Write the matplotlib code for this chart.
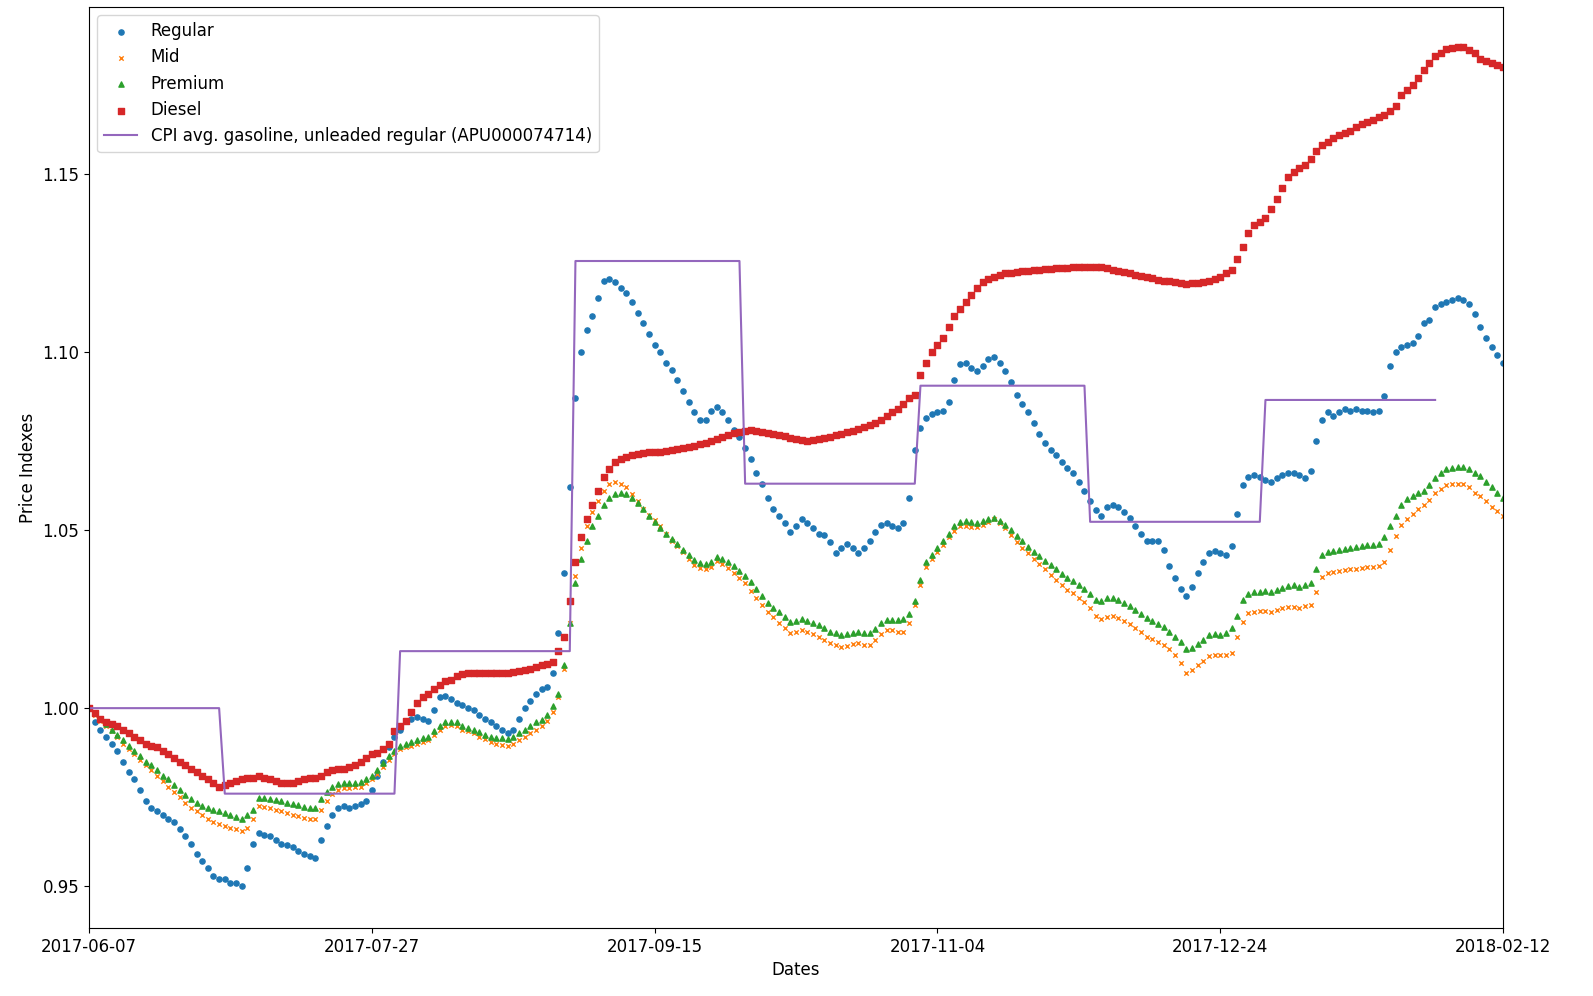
import numpy as np
import pandas as pd
import matplotlib
matplotlib.use("Agg")
import matplotlib.pyplot as plt
import matplotlib.dates as mdates

# daily index values, 2017-06-07 .. 2018-02-12
start, end = "2017-06-07", "2018-02-12"

regular = [
    1.000, 0.996, 0.994, 0.992, 0.990, 0.988, 0.985, 0.982, 0.980, 0.977,
    0.974, 0.972, 0.971, 0.970, 0.969, 0.968, 0.966, 0.964, 0.962, 0.959,
    0.957, 0.955, 0.953, 0.952, 0.952, 0.951, 0.951, 0.950, 0.955, 0.962,
    0.965, 0.9645, 0.964, 0.963, 0.962, 0.9615, 0.961, 0.960, 0.959, 0.9585,
    0.958, 0.963, 0.967, 0.970, 0.972, 0.9725, 0.972, 0.9725, 0.973, 0.974,
    0.977, 0.981, 0.985, 0.989, 0.992, 0.994, 0.9965, 0.997, 0.9975, 0.997,
    0.9965, 0.9995, 1.003, 1.0035, 1.0025, 1.0015, 1.001, 1.000, 0.9995, 0.998,
    0.997, 0.996, 0.995, 0.994, 0.993, 0.994, 0.997, 1.000, 1.002, 1.004,
    1.0055, 1.006, 1.010, 1.021, 1.038, 1.062, 1.087, 1.100, 1.106, 1.110,
    1.115, 1.120, 1.1205, 1.1195, 1.118, 1.1165, 1.114, 1.111, 1.108, 1.105,
    1.102, 1.100, 1.097, 1.095, 1.092, 1.089, 1.086, 1.083, 1.081, 1.081,
    1.0835, 1.0845, 1.083, 1.081, 1.078, 1.076, 1.073, 1.070, 1.066, 1.063,
    1.059, 1.056, 1.054, 1.052, 1.0495, 1.051, 1.053, 1.052, 1.0505, 1.049,
    1.0485, 1.0465, 1.0435, 1.045, 1.046, 1.045, 1.0435, 1.045, 1.047, 1.0495,
    1.0515, 1.052, 1.051, 1.0505, 1.052, 1.059, 1.0725, 1.0785, 1.0815, 1.0825,
    1.083, 1.0835, 1.086, 1.092, 1.0965, 1.097, 1.0955, 1.0945, 1.096, 1.098,
    1.0985, 1.097, 1.0945, 1.0915, 1.088, 1.0855, 1.083, 1.080, 1.077, 1.0745,
    1.0725, 1.071, 1.069, 1.0675, 1.066, 1.0635, 1.061, 1.058, 1.0555, 1.054,
    1.0565, 1.057, 1.0565, 1.055, 1.0535, 1.051, 1.049, 1.047, 1.047, 1.047,
    1.0445, 1.040, 1.0365, 1.0335, 1.0315, 1.034, 1.038, 1.041, 1.0435, 1.044,
    1.0435, 1.043, 1.0455, 1.0545, 1.0625, 1.065, 1.0655, 1.065, 1.064, 1.0635,
    1.0645, 1.0655, 1.066, 1.066, 1.0655, 1.0645, 1.0665, 1.075, 1.081, 1.083,
    1.082, 1.083, 1.084, 1.0835, 1.084, 1.0835, 1.0835, 1.083, 1.0835, 1.0875,
    1.096, 1.100, 1.1015, 1.102, 1.1025, 1.1045, 1.108, 1.109, 1.1125, 1.1135,
    1.114, 1.1145, 1.115, 1.1145, 1.1135, 1.1105, 1.107, 1.104, 1.1015, 1.099,
    1.097,
]

mid = [
    1.000, 0.998, 0.9965, 0.995, 0.9935, 0.992, 0.990, 0.9885, 0.987, 0.9855,
    0.984, 0.9825, 0.981, 0.9795, 0.978, 0.9765, 0.975, 0.9735, 0.972, 0.971,
    0.970, 0.969, 0.968, 0.9675, 0.967, 0.9665, 0.966, 0.9655, 0.9665, 0.969,
    0.9725, 0.9722, 0.972, 0.9715, 0.971, 0.9705, 0.970, 0.9697, 0.9693, 0.969,
    0.969, 0.9715, 0.974, 0.976, 0.977, 0.9775, 0.9775, 0.9778, 0.978, 0.979,
    0.980, 0.9815, 0.9835, 0.9855, 0.987, 0.9885, 0.989, 0.9895, 0.990, 0.9905,
    0.991, 0.9925, 0.994, 0.995, 0.9952, 0.995, 0.994, 0.9935, 0.993, 0.992,
    0.9912, 0.9905, 0.990, 0.9897, 0.9895, 0.990, 0.991, 0.992, 0.993, 0.994,
    0.995, 0.9965, 0.999, 1.003, 1.011, 1.024, 1.037, 1.045, 1.051, 1.055,
    1.058, 1.061, 1.063, 1.0635, 1.063, 1.062, 1.060, 1.058, 1.056, 1.0543,
    1.0528, 1.051, 1.049, 1.047, 1.0455, 1.0437, 1.042, 1.0403, 1.0393, 1.039,
    1.0397, 1.0412, 1.0405, 1.0393, 1.038, 1.0366, 1.035, 1.033, 1.031, 1.029,
    1.027, 1.0255, 1.024, 1.0225, 1.0212, 1.0215, 1.022, 1.0215, 1.0208, 1.020,
    1.0192, 1.0182, 1.0176, 1.0172, 1.0175, 1.018, 1.0182, 1.0178, 1.0176, 1.019,
    1.0208, 1.0218, 1.0218, 1.0215, 1.0215, 1.024, 1.029, 1.0347, 1.0397, 1.0418,
    1.0438, 1.0458, 1.048, 1.0498, 1.0512, 1.0512, 1.0508, 1.0508, 1.0515, 1.0523,
    1.053, 1.052, 1.0505, 1.0486, 1.0466, 1.045, 1.0435, 1.042, 1.0405, 1.039,
    1.0375, 1.036, 1.0345, 1.0333, 1.0322, 1.031, 1.0298, 1.028, 1.026, 1.0251,
    1.0256, 1.026, 1.0253, 1.0245, 1.0237, 1.0225, 1.0213, 1.0201, 1.0194, 1.0186,
    1.0178, 1.0166, 1.015, 1.0128, 1.010, 1.0108, 1.012, 1.0133, 1.0146, 1.0148,
    1.0148, 1.015, 1.0155, 1.020, 1.0242, 1.0267, 1.027, 1.0272, 1.0272, 1.027,
    1.0276, 1.028, 1.0283, 1.0285, 1.0282, 1.0286, 1.029, 1.0327, 1.0369, 1.0378,
    1.0381, 1.0384, 1.0387, 1.039, 1.039, 1.0393, 1.0395, 1.0397, 1.0399, 1.0411,
    1.0445, 1.0483, 1.0513, 1.0532, 1.0545, 1.0558, 1.057, 1.0585, 1.0603, 1.0615,
    1.0625, 1.0628, 1.0629, 1.0628, 1.062, 1.0605, 1.0595, 1.058, 1.0565, 1.0552,
    1.054,
]

premium = [
    1.000, 0.9985, 0.997, 0.9955, 0.994, 0.9925, 0.991, 0.9895, 0.988, 0.9865,
    0.985, 0.984, 0.9825, 0.981, 0.980, 0.9785, 0.977, 0.9755, 0.9745, 0.9735,
    0.9725, 0.972, 0.9715, 0.971, 0.9705, 0.970, 0.9695, 0.969, 0.970, 0.9715,
    0.9748, 0.9748, 0.9745, 0.9743, 0.974, 0.9735, 0.973, 0.9727, 0.9723, 0.972,
    0.972, 0.9745, 0.9765, 0.978, 0.9787, 0.979, 0.979, 0.979, 0.9792, 0.980,
    0.981, 0.9825, 0.9845, 0.9865, 0.988, 0.9895, 0.990, 0.9905, 0.991, 0.9915,
    0.992, 0.9935, 0.995, 0.996, 0.9962, 0.996, 0.995, 0.9945, 0.994, 0.9932,
    0.9925, 0.992, 0.9917, 0.9915, 0.9913, 0.992, 0.993, 0.994, 0.995, 0.996,
    0.9968, 0.998, 1.0005, 1.004, 1.012, 1.024, 1.035, 1.042, 1.047, 1.051,
    1.054, 1.057, 1.059, 1.060, 1.0603, 1.060, 1.059, 1.0575, 1.0558, 1.054,
    1.0522, 1.0505, 1.049, 1.0475, 1.046, 1.0445, 1.043, 1.0415, 1.0408, 1.0404,
    1.041, 1.0425, 1.042, 1.041, 1.0398, 1.0386, 1.037, 1.0355, 1.0335, 1.0315,
    1.0295, 1.028, 1.027, 1.0255, 1.0242, 1.0245, 1.025, 1.0245, 1.024, 1.0233,
    1.0225, 1.0215, 1.021, 1.0205, 1.0208, 1.0212, 1.0215, 1.0212, 1.021, 1.0222,
    1.0238, 1.0246, 1.0248, 1.0248, 1.025, 1.0265, 1.030, 1.036, 1.041, 1.0429,
    1.045, 1.0468, 1.0488, 1.051, 1.0522, 1.0525, 1.0522, 1.052, 1.0525, 1.053,
    1.0535, 1.0525, 1.0515, 1.050, 1.0484, 1.0468, 1.0453, 1.0438, 1.0426, 1.0414,
    1.0402, 1.039, 1.0377, 1.0365, 1.0356, 1.0345, 1.0335, 1.032, 1.0303, 1.0302,
    1.0308, 1.031, 1.0303, 1.0295, 1.0287, 1.0275, 1.0263, 1.0252, 1.0245, 1.0237,
    1.0228, 1.0215, 1.020, 1.0185, 1.0165, 1.017, 1.018, 1.0192, 1.0206, 1.0208,
    1.0206, 1.021, 1.0224, 1.026, 1.0303, 1.0321, 1.0326, 1.0327, 1.0328, 1.0325,
    1.0332, 1.0338, 1.0342, 1.0345, 1.034, 1.0345, 1.035, 1.039, 1.043, 1.0437,
    1.0442, 1.0445, 1.0448, 1.045, 1.0452, 1.0455, 1.0457, 1.0458, 1.046, 1.048,
    1.051, 1.054, 1.057, 1.0586, 1.0595, 1.0603, 1.061, 1.0625, 1.0645, 1.066,
    1.067, 1.0675, 1.0677, 1.0677, 1.0672, 1.066, 1.0652, 1.0635, 1.062, 1.0605,
    1.059,
]

diesel = [
    1.000, 0.9985, 0.997, 0.996, 0.9955, 0.995, 0.994, 0.993, 0.992, 0.991,
    0.990, 0.9895, 0.989, 0.988, 0.987, 0.986, 0.985, 0.984, 0.983, 0.982,
    0.981, 0.980, 0.979, 0.978, 0.9785, 0.979, 0.9795, 0.980, 0.9805, 0.9805,
    0.981, 0.9805, 0.980, 0.9795, 0.979, 0.979, 0.979, 0.9795, 0.980, 0.9805,
    0.9805, 0.981, 0.982, 0.9825, 0.983, 0.983, 0.9835, 0.984, 0.985, 0.986,
    0.987, 0.9875, 0.9885, 0.990, 0.9935, 0.995, 0.9965, 0.999, 1.0015, 1.003,
    1.004, 1.0055, 1.0065, 1.0075, 1.008, 1.009, 1.0095, 1.0098, 1.010, 1.010,
    1.010, 1.0098, 1.010, 1.010, 1.010, 1.0102, 1.0105, 1.0108, 1.011, 1.0115,
    1.012, 1.0125, 1.013, 1.016, 1.020, 1.030, 1.041, 1.048, 1.053, 1.057,
    1.061, 1.065, 1.067, 1.069, 1.070, 1.0705, 1.071, 1.0713, 1.0716, 1.0718,
    1.072, 1.072, 1.0722, 1.0725, 1.0728, 1.073, 1.0733, 1.0736, 1.074, 1.0745,
    1.075, 1.0756, 1.0762, 1.0767, 1.0772, 1.0776, 1.0779, 1.078, 1.0778, 1.0776,
    1.0773, 1.077, 1.0767, 1.0763, 1.0758, 1.0755, 1.0752, 1.0751, 1.0752, 1.0755,
    1.0758, 1.0762, 1.0766, 1.077, 1.0774, 1.0778, 1.0783, 1.0788, 1.0794, 1.080,
    1.081, 1.082, 1.083, 1.084, 1.0855, 1.087, 1.088, 1.0935, 1.097, 1.100,
    1.102, 1.104, 1.107, 1.110, 1.112, 1.114, 1.116, 1.118, 1.1195, 1.1205,
    1.121, 1.1215, 1.122, 1.1222, 1.1224, 1.1226, 1.1228, 1.123, 1.1231, 1.1232,
    1.1233, 1.1234, 1.1235, 1.1236, 1.1237, 1.1238, 1.1239, 1.1239, 1.1239, 1.1238,
    1.1235, 1.1231, 1.1227, 1.1223, 1.122, 1.1216, 1.1212, 1.1209, 1.1206, 1.1203,
    1.120, 1.1198, 1.1195, 1.1193, 1.1191, 1.1192, 1.1194, 1.1196, 1.120, 1.1205,
    1.121, 1.122, 1.123, 1.126, 1.1295, 1.1335, 1.1355, 1.1365, 1.1375, 1.140,
    1.143, 1.146, 1.149, 1.1505, 1.1515, 1.1525, 1.154, 1.1565, 1.158, 1.159,
    1.160, 1.161, 1.1615, 1.162, 1.163, 1.164, 1.1645, 1.165, 1.166, 1.1665,
    1.1675, 1.169, 1.172, 1.1735, 1.175, 1.177, 1.179, 1.181, 1.183, 1.184,
    1.185, 1.1853, 1.1856, 1.1856, 1.1848, 1.1838, 1.1822, 1.1815, 1.181, 1.1805,
    1.180,
]

# monthly CPI (APU000074714), rebased to June 2017
cpi_months = ["2017-06", "2017-07", "2017-08", "2017-09", "2017-10",
              "2017-11", "2017-12", "2018-01"]
cpi_values = [1.000, 0.976, 1.016, 1.1255, 1.063, 1.0905, 1.0523, 1.0865]

dates = pd.date_range(start, end, freq="D")
df = pd.DataFrame({"Regular": regular, "Mid": mid, "Premium": premium,
                   "Diesel": diesel}, index=dates)
cpi = pd.Series(cpi_values, index=pd.PeriodIndex(cpi_months, freq="M"))
df["CPI"] = cpi.reindex(dates.to_period("M")).values

fig = plt.figure(figsize=(15.93, 9.96), dpi=100)
ax = fig.add_axes([0.0559, 0.0683, 0.8876, 0.9247])

ax.scatter(df.index, df["Regular"], s=14, marker="o", color="C0", label="Regular")
ax.scatter(df.index, df["Mid"], s=10, marker="x", linewidths=1, color="C1", label="Mid")
ax.scatter(df.index, df["Premium"], s=14, marker="^", color="C2", label="Premium")
ax.scatter(df.index, df["Diesel"], s=14, marker="s", color="C3", label="Diesel")
ax.plot(df.index, df["CPI"], color="C4", lw=1.5,
        label="CPI avg. gasoline, unleaded regular (APU000074714)")

ax.set_xlim(dates[0], dates[-1])
ax.set_ylim(0.9383, 1.1968)
ax.set_xticks(dates[::50])
ax.xaxis.set_major_formatter(mdates.DateFormatter("%Y-%m-%d"))
ax.set_yticks([0.95, 1.00, 1.05, 1.10, 1.15])
ax.tick_params(labelsize=12)
ax.set_xlabel("Dates", fontsize=12)
ax.set_ylabel("Price Indexes", fontsize=12)
ax.legend(loc="upper left", fontsize=12, scatterpoints=1)

fig.savefig("out.png", dpi=100)
